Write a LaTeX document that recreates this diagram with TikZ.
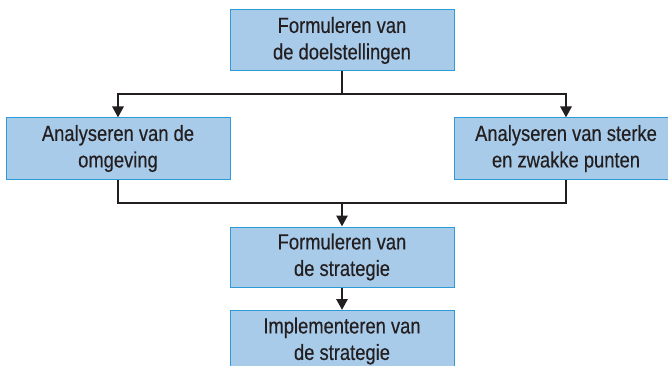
\documentclass[tikz,border=0pt]{standalone}
\usepackage{fontspec}
\setmainfont{Liberation Sans}[FakeStretch=0.835, FakeBold=0.4]
\usetikzlibrary{arrows.meta}
\definecolor{boxfill}{HTML}{A9CBEA}
\definecolor{boxline}{HTML}{2F9BD6}
\definecolor{ink}{HTML}{231F20}
\tikzset{
  stepbox/.style={draw=boxline, line width=1pt, fill=boxfill, text=ink,
    align=center, font=\fontsize{22}{26.5}\selectfont, inner sep=0pt},
  link/.style={draw=ink, line width=2.8pt},
  arr/.style={link, -{Triangle[length=11pt, width=11pt]}}
}
\begin{document}
\begin{tikzpicture}[x=1pt, y=-1pt]
  \useasboundingbox (0,0) rectangle (668,366);
  \begin{scope}
    \clip (0,0) rectangle (668,366);
    % the five steps
    \node[stepbox, minimum width=224pt, minimum height=61pt] (doel) at (342,40.5)
      {Formuleren van\\de doelstellingen};
    \node[stepbox, minimum width=224pt, minimum height=61pt] (omg) at (118,148.5)
      {Analyseren van de\\omgeving};
    \node[stepbox, minimum width=224pt, minimum height=61pt] (sz) at (566,148.5)
      {Analyseren van sterke\\en zwakke punten};
    \node[stepbox, minimum width=224pt, minimum height=60pt] (strat) at (342,257)
      {Formuleren van\\de strategie};
    \node[stepbox, minimum width=224pt, minimum height=61pt, anchor=north] (impl) at (342,310)
      {Implementeren van\\de strategie};
    % splits and joins
    \coordinate (split) at (342,94);
    \coordinate (join) at (342,203);
    \draw[link] (doel.south) -- (split);
    \draw[arr] (split) -| (omg.north);
    \draw[arr] (split) -| (sz.north);
    \draw[link] (omg.south) |- (join);
    \draw[link] (sz.south) |- (join);
    \draw[arr] (join) -- (strat.north);
    \draw[arr] (strat.south) -- (impl.north);
  \end{scope}
\end{tikzpicture}
\end{document}
